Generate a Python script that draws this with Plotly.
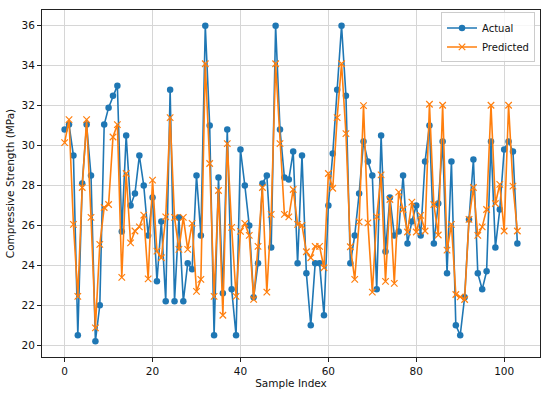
import plotly.graph_objects as go

sample_index = list(range(104))

actual = [
    30.8, 31.05, 29.5, 20.5, 28.1, 31.05, 28.5, 20.2, 22.0, 31.05,
    31.9, 32.5, 33.0, 25.7, 30.5, 27.0, 27.6, 29.5, 28.0, 25.5,
    27.4, 23.2, 26.2, 22.2, 32.8, 22.2, 26.4, 22.2, 24.1, 23.8,
    28.5, 25.5, 36.0, 31.0, 20.5, 28.4, 22.6, 30.8, 22.8, 20.5,
    29.8, 28.0, 26.0, 22.4, 24.1, 28.1, 28.5, 24.9, 36.0, 30.8,
    28.4, 28.3, 29.7, 24.1, 29.5, 23.6, 21.0, 24.1, 24.1, 21.5,
    27.0, 29.6, 32.8, 36.0, 32.5, 24.1, 25.5, 27.6, 30.2, 29.2,
    28.5, 22.8, 30.5, 24.7, 27.4, 25.5, 25.7, 28.5, 25.1, 26.2,
    27.0, 25.5, 29.2, 31.0, 25.1, 27.1, 30.2, 23.6, 29.2, 21.0,
    20.5, 22.4, 26.3, 29.3, 23.6, 22.8, 23.7, 30.2, 24.9, 26.8,
    29.8, 30.2, 29.7, 25.1,
]

predicted = [
    30.15, 31.3, 26.05, 22.45, 27.9, 31.3, 26.4, 20.87, 25.05, 26.9,
    27.05, 30.43, 31.05, 23.4, 28.6, 25.13, 25.72, 25.93, 26.52, 23.32,
    28.27, 24.71, 24.38, 26.43, 31.4, 26.4, 24.8, 26.4, 24.8, 26.1,
    22.7, 23.3, 34.1, 29.1, 22.45, 27.75, 21.5, 30.1, 25.9, 22.45,
    25.7, 26.1, 25.5, 22.3, 24.95, 27.9, 22.66, 26.55, 34.1, 30.1,
    26.55, 26.43, 27.8, 26.05, 26.0, 24.68, 24.38, 24.95, 24.95, 23.88,
    28.6, 27.86, 31.4, 34.1, 30.6, 24.93, 23.3, 26.18, 32.0, 26.13,
    22.66, 26.43, 28.53, 23.2, 27.3, 23.1, 27.67, 26.8, 25.67, 27.17,
    25.67, 26.5, 25.72, 32.07, 27.05, 25.52, 32.02, 24.76, 26.05, 22.54,
    22.42, 22.29, 26.3, 27.9, 25.5, 25.93, 26.8, 32.02, 27.1, 28.06,
    25.72, 32.02, 27.97, 25.72,
]

x_ticks = [0, 20, 40, 60, 80, 100]
y_ticks = [20, 22, 24, 26, 28, 30, 32, 34, 36]

BLUE = "#1f77b4"
ORANGE = "#ff7f0e"
FONT = "DejaVu Sans"

fig = go.Figure()
fig.add_trace(go.Scatter(
    x=sample_index, y=actual, name="Actual", mode="lines+markers",
    line=dict(color=BLUE, width=1.6),
    marker=dict(symbol="circle", size=6.5, color=BLUE),
))
fig.add_trace(go.Scatter(
    x=sample_index, y=predicted, name="Predicted", mode="lines+markers",
    line=dict(color=ORANGE, width=1.6),
    marker=dict(symbol="x-thin", size=6.5, color=ORANGE,
                line=dict(width=1.2, color=ORANGE)),
))

axis_common = dict(
    showgrid=True, gridcolor="#d6d6d6", gridwidth=0.9,
    showline=True, mirror=True, linecolor="#222222", linewidth=0.9,
    ticks="outside", ticklen=4, tickcolor="#222222", tickwidth=0.9,
    zeroline=False, automargin=False,
    tickfont=dict(family=FONT, size=10.5, color="#111111"),
    title_font=dict(family=FONT, size=10.5, color="#111111"),
)

fig.update_layout(
    width=550, height=395,
    margin=dict(l=42, r=10, t=10, b=38),
    paper_bgcolor="white", plot_bgcolor="white",
    font=dict(family=FONT, size=10.5, color="#111111"),
    xaxis=dict(range=[-5.15, 108.15], tickvals=x_ticks,
               title=dict(text="Sample Index", standoff=4), **axis_common),
    yaxis=dict(range=[19.41, 36.79], tickvals=y_ticks,
               title=dict(text="Compressive Strength (MPa)", standoff=4), **axis_common),
    legend=dict(x=0.99, y=0.993, xanchor="right", yanchor="top",
                bgcolor="rgba(255,255,255,0.8)", bordercolor="#cccccc", borderwidth=1,
                font=dict(family=FONT, size=10, color="#111111"),
                tracegroupgap=0, itemwidth=30),
    showlegend=True,
)

fig.write_html(
    "out.html",
    config={"displayModeBar": False},
    post_script="document.body.style.margin='0';document.body.style.padding='0';"
                "document.body.style.overflow='hidden';",
)
